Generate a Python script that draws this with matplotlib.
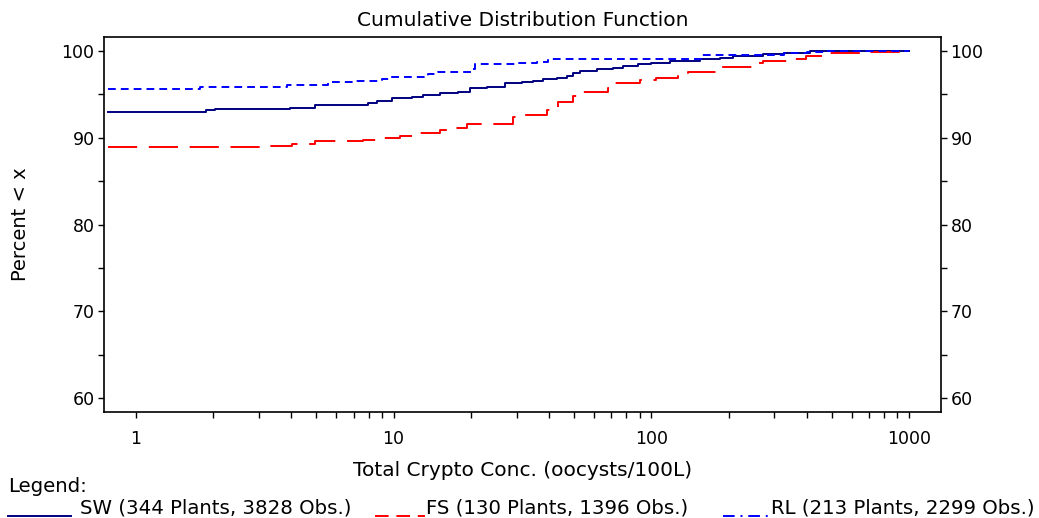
import numpy as np
import matplotlib
matplotlib.use('Agg')
import matplotlib.pyplot as plt
from matplotlib.lines import Line2D
from matplotlib.ticker import FixedLocator, NullFormatter

plt.rcParams['font.family'] = ['DejaVu Sans']

# Step breakpoints (x = conc., y = percent < x)
sw_x = [0.78, 1.87, 2.03, 3.96, 4.95, 7.95, 8.61, 9.85, 11.8, 13.0, 15.1, 17.7,
        19.8, 23.0, 27.0, 31.4, 34.7, 37.9, 43.0, 47.0, 49.6, 52.7, 61.4, 70.8,
        77.4, 88.5, 100, 118, 154, 184, 207, 270, 328, 411, 1000]
sw_y = [92.94, 93.2, 93.3, 93.47, 93.8, 94.04, 94.24, 94.55, 94.73, 94.9, 95.13, 95.31,
        95.77, 95.89, 96.28, 96.39, 96.54, 96.74, 96.92, 97.12, 97.5, 97.7, 97.89, 98.08,
        98.27, 98.47, 98.65, 98.85, 99.04, 99.23, 99.42, 99.62, 99.8, 100, 100]

fs_x = [0.78, 3.03, 4.02, 4.95, 7.6, 8.6, 10.6, 11.8, 15.1, 17.0, 19.2, 29.1,
        30.4, 39.2, 43.5, 49.7, 54.3, 67.9, 72.1, 90.2, 104.5, 127, 139, 179,
        187, 248, 271, 339, 399, 477, 650, 1000]
fs_y = [88.9, 89.05, 89.25, 89.63, 89.75, 89.94, 90.2, 90.5, 90.9, 91.1, 91.6, 92.36,
        92.63, 93.2, 94.16, 94.82, 95.31, 95.7, 96.28, 96.66, 96.92, 97.24, 97.62, 97.73,
        98.19, 98.58, 98.88, 99.08, 99.42, 99.73, 99.9, 99.9]

rl_x = [0.78, 1.77, 2.72, 3.86, 5.56, 6.95, 9.01, 9.68, 13.6, 14.9, 20.1, 20.7,
        29.5, 35.9, 39.6, 156, 328, 400, 480, 1000]
rl_y = [95.59, 95.82, 95.89, 96.08, 96.39, 96.58, 96.77, 97.04, 97.32, 97.62, 97.89, 98.47,
        98.58, 98.7, 99.04, 99.5, 99.7, 99.9, 100, 100]

labels = ['SW (344 Plants, 3828 Obs.)', 'FS (130 Plants, 1396 Obs.)',
          'RL (213 Plants, 2299 Obs.)']

fig = plt.figure(figsize=(10.39, 5.18), dpi=100)
ax = fig.add_axes([0.1004, 0.2046, 0.805, 0.724])

ax.step(sw_x, sw_y, where='post', color='#000080', lw=1.4)
ax.step(fs_x, fs_y, where='post', color='#ff0000', lw=1.4, linestyle=(0, (15, 6)))
ax.step(rl_x, rl_y, where='post', color='#0000ff', lw=1.4, linestyle=(0, (4, 2.6)))

ax.set_xscale('log')
ax.set_xlim(0.755, 1325)
ax.set_ylim(58.4, 101.6)
ax.set_xticks([1, 10, 100, 1000])
ax.set_xticklabels(['1', '10', '100', '1000'])
ax.xaxis.set_minor_locator(FixedLocator([m * 10 ** e for e in range(0, 3) for m in range(2, 10)]))
ax.xaxis.set_minor_formatter(NullFormatter())
ax.set_yticks([60, 70, 80, 90, 100])
ax.set_yticks([65, 75, 85, 95], minor=True)
ax.tick_params(which='both', direction='out', length=4, width=1, labelsize=12.5, pad=3,
               right=True, labelright=True)
ax.tick_params(axis='x', which='both', pad=9)
for s in ax.spines.values():
    s.set_linewidth(1.2)

ax.set_title('Cumulative Distribution Function', fontsize=14.5, pad=8)
ax.set_xlabel('Total Crypto Conc. (oocysts/100L)', fontsize=14.5, labelpad=9)
ax.set_ylabel('Percent < x', fontsize=14, labelpad=23)

# hand-drawn legend under the axes
W, H = 1039.0, 518.0
fig.text(8 / W, 1 - 492 / H, 'Legend:', fontsize=14.2, va='baseline')
samples = [((8, 71), '#000080', '-', 80),
           ((375, 425), '#ff0000', (0, (7, 4)), 426),
           ((723, 772), '#0000ff', (0, (6, 3, 1, 3)), 771)]
for (x0, x1), col, ls, tx in samples:
    fig.add_artist(Line2D([x0 / W, x1 / W], [1 - 516 / H, 1 - 516 / H], color=col,
                          lw=1.4, linestyle=ls, transform=fig.transFigure))
for lab, s in zip(labels, samples):
    fig.text(s[3] / W, 1 - 513 / H, lab, fontsize=14.2, va='baseline')

fig.savefig('out.png', dpi=100)
